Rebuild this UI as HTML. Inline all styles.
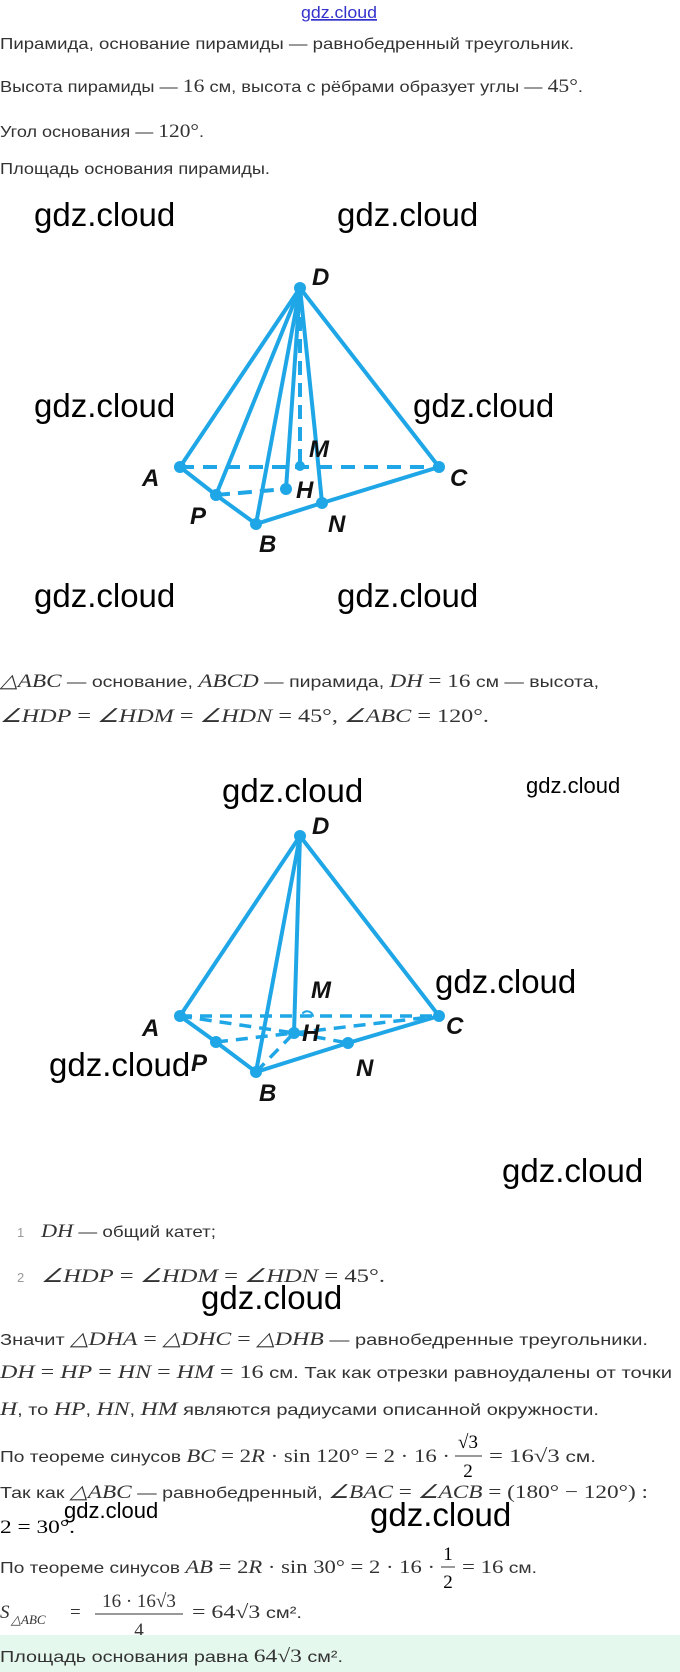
<!DOCTYPE html>
<html><head><meta charset="utf-8"><style>
html,body{margin:0;padding:0;background:#fff}
svg{display:block}
.t{font-family:"Liberation Sans",sans-serif;font-size:16px;fill:#333}
.m{font-family:"Liberation Serif",serif;font-size:19px;font-style:italic}
.n{font-family:"Liberation Serif",serif;font-size:19px;font-style:normal}
.w{font-family:"Liberation Sans",sans-serif;font-size:33px;fill:#000}
.lb{font-family:"Liberation Sans",sans-serif;font-size:24px;font-style:italic;font-weight:bold;fill:#111}
</style></head><body>
<svg width="680" height="1672" viewBox="0 0 680 1672" xmlns="http://www.w3.org/2000/svg">
<text x="301" y="18" style="font-family:'Liberation Sans',sans-serif;font-size:17px;fill:#3333cc;text-decoration:underline" textLength="76" lengthAdjust="spacingAndGlyphs">gdz.cloud</text>

<text class="t" x="0" y="49" textLength="574" lengthAdjust="spacingAndGlyphs">Пирамида, основание пирамиды — равнобедренный треугольник.</text>
<text class="t" x="0" y="92" textLength="583" lengthAdjust="spacingAndGlyphs">Высота пирамиды — <tspan class="n">16</tspan> см, высота с рёбрами образует углы — <tspan class="n">45°</tspan>.</text>
<text class="t" x="0" y="137" textLength="204" lengthAdjust="spacingAndGlyphs">Угол основания — <tspan class="n">120°</tspan>.</text>
<text class="t" x="0" y="174" textLength="270" lengthAdjust="spacingAndGlyphs">Площадь основания пирамиды.</text>

<g class="w">
<text x="34" y="226">gdz.cloud</text><text x="337" y="226">gdz.cloud</text>
<text x="34" y="417">gdz.cloud</text><text x="413" y="417">gdz.cloud</text>
<text x="34" y="607">gdz.cloud</text><text x="337" y="607">gdz.cloud</text>
</g>

<!-- diagram 1 -->
<g stroke="#1fa6e6" stroke-width="4" fill="none" stroke-linecap="round">
<line x1="300" y1="288" x2="180" y2="467"/>
<line x1="300" y1="288" x2="439" y2="467"/>
<line x1="300" y1="288" x2="216" y2="495"/>
<line x1="300" y1="288" x2="256" y2="524"/>
<line x1="300" y1="288" x2="286" y2="489"/>
<line x1="300" y1="288" x2="315" y2="432"/>
<line x1="315" y1="432" x2="322" y2="503"/>
<polyline points="180,467 216,495 256,524 322,503 439,467"/>
<line x1="180" y1="467" x2="439" y2="467" stroke-dasharray="14,9" stroke-linecap="butt"/>
<line x1="300" y1="295" x2="300" y2="466" stroke-dasharray="14,8" stroke-linecap="butt"/>
<line x1="216" y1="495" x2="286" y2="489" stroke-dasharray="14,8" stroke-linecap="butt"/>
</g>
<g fill="#1fa6e6">
<circle cx="300" cy="288" r="6"/><circle cx="180" cy="467" r="6"/><circle cx="439" cy="467" r="6"/>
<circle cx="216" cy="495" r="6"/><circle cx="256" cy="524" r="6"/><circle cx="322" cy="503" r="6"/>
<circle cx="286" cy="489" r="6"/><circle cx="300" cy="466" r="5"/>
</g>
<g class="lb">
<text x="312" y="285">D</text><text x="142" y="486">A</text><text x="450" y="486">C</text>
<text x="190" y="524">P</text><text x="259" y="552">B</text><text x="328" y="532">N</text>
<text x="296" y="498">H</text><text x="309" y="457">M</text>
</g>

<text class="t" x="0" y="687" textLength="599" lengthAdjust="spacingAndGlyphs"><tspan class="m">△ABC</tspan> — основание, <tspan class="m">ABCD</tspan> — пирамида, <tspan class="m">DH</tspan> <tspan class="n">= 16</tspan> см — высота,</text>
<text class="t" x="0" y="722" textLength="489" lengthAdjust="spacingAndGlyphs"><tspan class="m">∠HDP</tspan><tspan class="n"> = </tspan><tspan class="m">∠HDM</tspan><tspan class="n"> = </tspan><tspan class="m">∠HDN</tspan><tspan class="n"> = 45°, </tspan><tspan class="m">∠ABC</tspan><tspan class="n"> = 120°.</tspan></text>

<text class="w" x="222" y="802">gdz.cloud</text>
<text x="526" y="793" style="font-family:'Liberation Sans',sans-serif;font-size:22px;fill:#000">gdz.cloud</text>

<!-- diagram 2 -->
<g stroke="#1fa6e6" stroke-width="4" fill="none" stroke-linecap="round">
<line x1="300" y1="836" x2="180" y2="1016"/>
<line x1="300" y1="836" x2="439" y2="1016"/>
<line x1="300" y1="836" x2="256" y2="1072"/>
<line x1="300" y1="836" x2="294" y2="1033"/>
<polyline points="180,1016 216,1042 256,1072 348,1043 439,1016"/>
<g stroke-dasharray="12,8" stroke-linecap="butt" stroke-width="3.5">
<line x1="180" y1="1016" x2="439" y2="1016"/>
<line x1="180" y1="1016" x2="294" y2="1033"/>
<line x1="216" y1="1042" x2="294" y2="1033"/>
<line x1="294" y1="1033" x2="439" y2="1016"/>
<line x1="294" y1="1033" x2="348" y2="1043"/>
<line x1="256" y1="1072" x2="294" y2="1033"/>
</g>
<path d="M303,1013 a6,6 0 0 1 10,3" stroke-width="2"/>
</g>
<g fill="#1fa6e6">
<circle cx="300" cy="836" r="6"/><circle cx="180" cy="1016" r="6"/><circle cx="439" cy="1016" r="6"/>
<circle cx="216" cy="1042" r="6"/><circle cx="256" cy="1072" r="6"/><circle cx="348" cy="1043" r="6"/>
<circle cx="294" cy="1033" r="6"/>
</g>
<g class="lb">
<text x="312" y="834">D</text><text x="142" y="1036">A</text><text x="446" y="1034">C</text>
<text x="191" y="1071">P</text><text x="259" y="1101">B</text><text x="356" y="1076">N</text>
<text x="302" y="1041">H</text><text x="311" y="998">M</text>
</g>
<text class="w" x="435" y="993">gdz.cloud</text>
<text class="w" x="49" y="1076">gdz.cloud</text>
<text class="w" x="502" y="1182">gdz.cloud</text>

<text class="t" x="17" y="1237" fill="#999" style="fill:#999;font-size:13px">1</text>
<text class="t" x="41" y="1237" textLength="175" lengthAdjust="spacingAndGlyphs"><tspan class="m">DH</tspan> — общий катет;</text>
<text class="t" x="17" y="1282" style="fill:#999;font-size:13px">2</text>
<text class="t" x="41" y="1282" textLength="344" lengthAdjust="spacingAndGlyphs"><tspan class="m">∠HDP</tspan><tspan class="n"> = </tspan><tspan class="m">∠HDM</tspan><tspan class="n"> = </tspan><tspan class="m">∠HDN</tspan><tspan class="n"> = 45°.</tspan></text>
<text class="w" x="201" y="1309">gdz.cloud</text>

<text class="t" x="0" y="1345" textLength="648" lengthAdjust="spacingAndGlyphs">Значит <tspan class="m">△DHA</tspan><tspan class="n"> = </tspan><tspan class="m">△DHC</tspan><tspan class="n"> = </tspan><tspan class="m">△DHB</tspan> — равнобедренные треугольники.</text>
<text class="t" x="0" y="1378" textLength="672" lengthAdjust="spacingAndGlyphs"><tspan class="m">DH</tspan><tspan class="n"> = </tspan><tspan class="m">HP</tspan><tspan class="n"> = </tspan><tspan class="m">HN</tspan><tspan class="n"> = </tspan><tspan class="m">HM</tspan><tspan class="n"> = 16</tspan> см. Так как отрезки равноудалены от точки</text>
<text class="t" x="0" y="1415" textLength="599" lengthAdjust="spacingAndGlyphs"><tspan class="m">H</tspan>, то <tspan class="m">HP</tspan>, <tspan class="m">HN</tspan>, <tspan class="m">HM</tspan> являются радиусами описанной окружности.</text>

<text class="t" x="0" y="1462" textLength="450" lengthAdjust="spacingAndGlyphs">По теореме синусов <tspan class="m">BC</tspan><tspan class="n"> = 2</tspan><tspan class="m">R</tspan><tspan class="n"> · sin 120° = 2 · 16 ·</tspan></text>
<text class="n" x="468" y="1448" text-anchor="middle">√3</text>
<line x1="455" y1="1456" x2="482" y2="1456" stroke="#333" stroke-width="1"/>
<text class="n" x="468" y="1477" text-anchor="middle">2</text>
<text class="t" x="489" y="1462" textLength="107" lengthAdjust="spacingAndGlyphs"><tspan class="n">= 16√3</tspan> см.</text>

<text class="t" x="0" y="1498" textLength="648" lengthAdjust="spacingAndGlyphs">Так как <tspan class="m">△ABC</tspan> — равнобедренный, <tspan class="m">∠BAC</tspan><tspan class="n"> = </tspan><tspan class="m">∠ACB</tspan><tspan class="n"> = (180° − 120°) :</tspan></text>
<text class="n" x="0" y="1533" textLength="75" lengthAdjust="spacingAndGlyphs">2 = 30°.</text>
<text x="64" y="1518" style="font-family:'Liberation Sans',sans-serif;font-size:22px;fill:#000">gdz.cloud</text>
<text class="w" x="370" y="1526">gdz.cloud</text>

<text class="t" x="0" y="1573" textLength="435" lengthAdjust="spacingAndGlyphs">По теореме синусов <tspan class="m">AB</tspan><tspan class="n"> = 2</tspan><tspan class="m">R</tspan><tspan class="n"> · sin 30° = 2 · 16 ·</tspan></text>
<text class="n" x="448" y="1560" text-anchor="middle">1</text>
<line x1="441" y1="1567" x2="455" y2="1567" stroke="#333" stroke-width="1"/>
<text class="n" x="448" y="1588" text-anchor="middle">2</text>
<text class="t" x="462" y="1573" textLength="75" lengthAdjust="spacingAndGlyphs"><tspan class="n">= 16</tspan> см.</text>

<text class="m" x="0" y="1618" style="fill:#333">S</text>
<text class="m" x="11" y="1624" style="font-size:13px;fill:#333">△ABC</text>
<text class="n" x="70" y="1618" style="fill:#333">=</text>
<text class="n" x="139" y="1607" text-anchor="middle" style="fill:#333">16 · 16√3</text>
<line x1="95" y1="1614" x2="183" y2="1614" stroke="#333" stroke-width="1"/>
<text class="n" x="139" y="1636" text-anchor="middle" style="fill:#333">4</text>
<text class="t" x="192" y="1618" textLength="110" lengthAdjust="spacingAndGlyphs"><tspan class="n">= 64√3</tspan> см².</text>

<rect x="0" y="1635" width="680" height="37" fill="#e5f8ee"/>
<text class="t" x="0" y="1662" textLength="343" lengthAdjust="spacingAndGlyphs">Площадь основания равна <tspan class="n">64√3</tspan> см².</text>
</svg>
</body></html>
